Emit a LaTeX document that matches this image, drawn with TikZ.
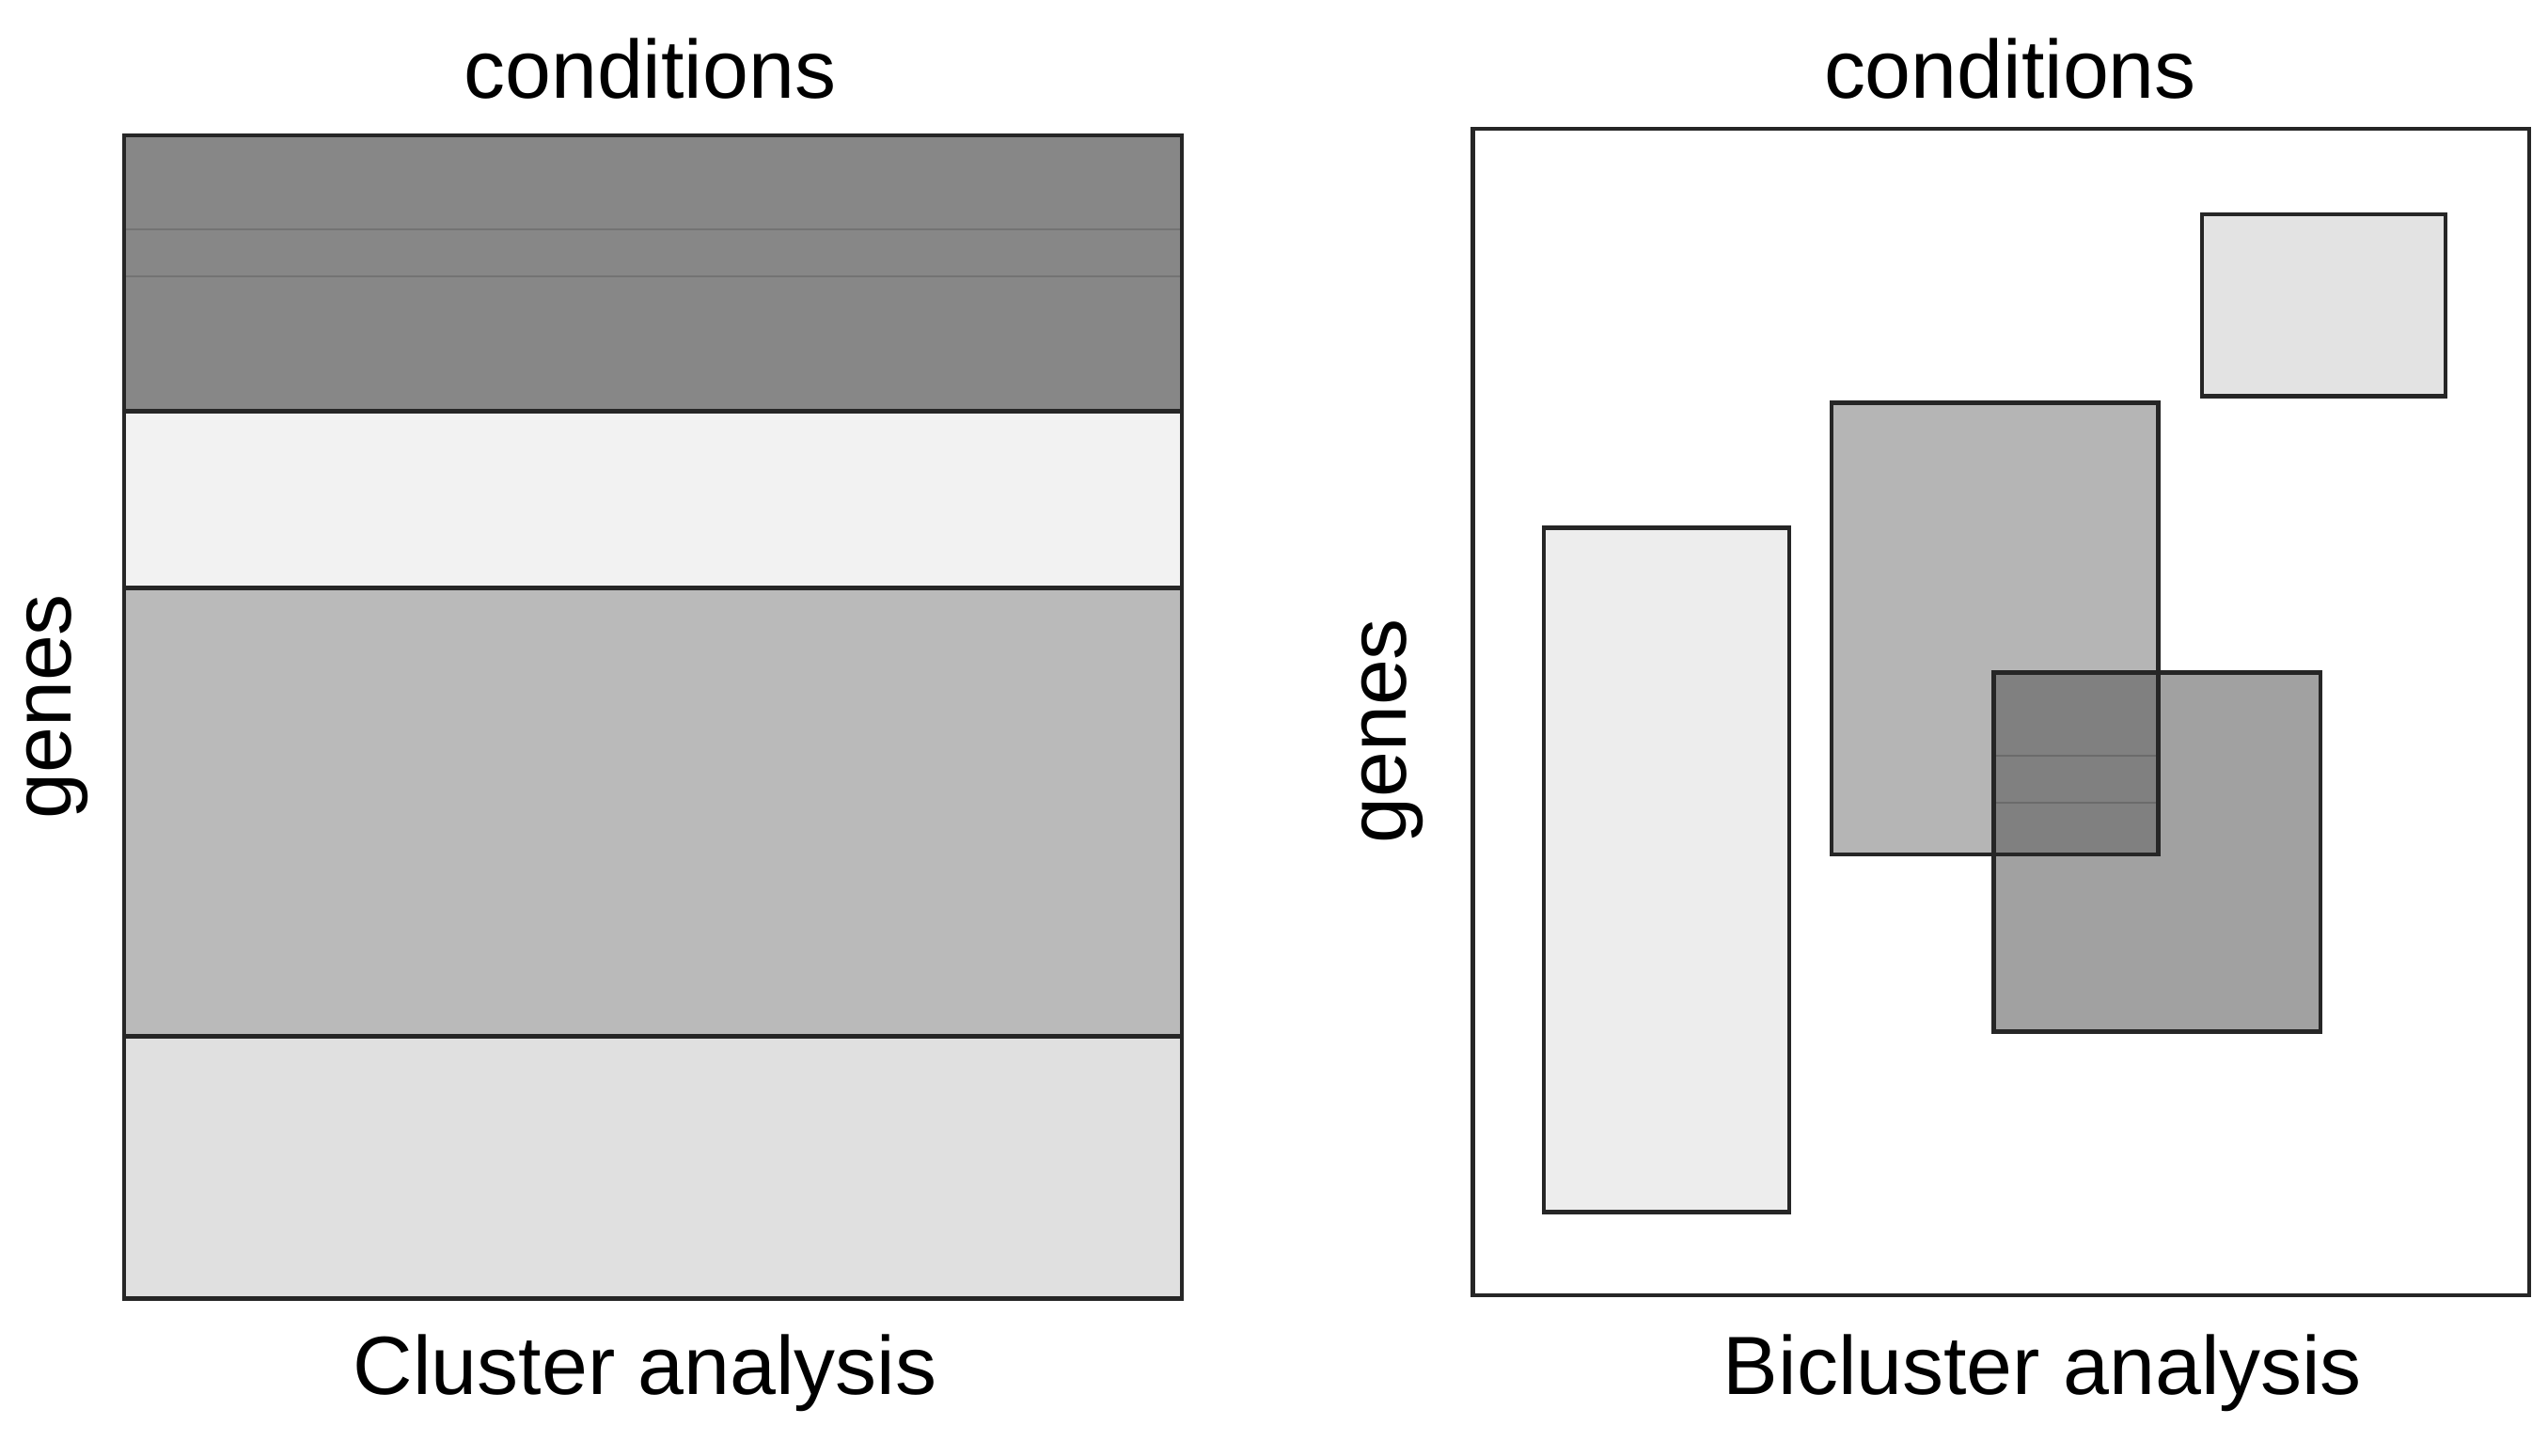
\documentclass[tikz,border=0pt]{standalone}
\usepackage{fontspec}
\setmainfont{Liberation Sans}
\begin{document}
\begin{tikzpicture}[x=0.01728cm,y=-0.01728cm,
  box/.style={draw=black!85,line width=1.3pt},
  lbl/.style={font=\fontsize{25}{30}\selectfont}]
\useasboundingbox (0,0) rectangle (1568,896);
% left panel
\fill[black!47] (75,82) rectangle (726,253);
\draw[black!55,line width=0.6pt] (75,141) -- (726,141) (75,170) -- (726,170);
\fill[black!5] (75,253) rectangle (726,362);
\fill[black!27] (75,362) rectangle (726,638);
\fill[black!12] (75,638) rectangle (726,798);
\draw[box] (75,253) -- (726,253) (75,362) -- (726,362) (75,638) -- (726,638);
\node[box,minimum width=651*0.01728cm,minimum height=716*0.01728cm,inner sep=0,anchor=north west] (L) at (75,82) {};
% right panel
\node[box,minimum width=650*0.01728cm,minimum height=718*0.01728cm,inner sep=0,anchor=north west] (R) at (905,78) {};
\draw[box,fill=black!11] (1355,132) rectangle (1505,244);
\draw[box,fill=black!7] (950,325) rectangle (1101,746);
\draw[box,fill=black!29] (1127,248) rectangle (1328,526);
\draw[box,fill=black!37] (1227,414) rectangle (1428,635);
\fill[black!50] (1227,414) rectangle (1328,526);
\draw[black!58,line width=0.6pt] (1227,465) -- (1328,465) (1227,494) -- (1328,494);
\draw[box] (1227,414) rectangle (1328,526);
\draw[box] (1227,414) -- (1227,635);
% labels
\node[lbl] (c1) at (400,42) {conditions};
\node[lbl] (c2) at (1237,42) {conditions};
\node[lbl,rotate=90] (g1) at (35,435) {genes};
\node[lbl,rotate=90] (g2) at (857,450) {genes};
\node[lbl] (t1) at (397,845) {Cluster analysis};
\node[lbl] (t2) at (1257,845) {Bicluster analysis};
\end{tikzpicture}
\end{document}
